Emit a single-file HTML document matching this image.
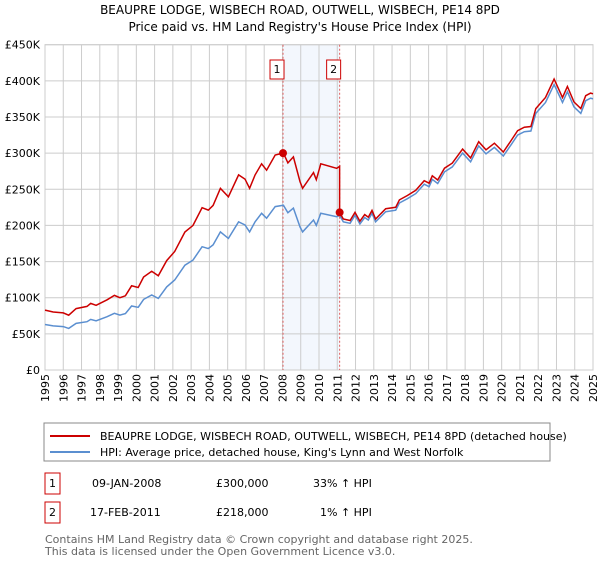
<!DOCTYPE html>
<html><head><meta charset="utf-8"><style>
body{margin:0;background:#fff;font-family:"DejaVu Sans","Liberation Sans",sans-serif;}
svg text{font-family:"DejaVu Sans","Liberation Sans",sans-serif;}
</style></head><body>
<svg id="c" width="600" height="560" viewBox="0 0 600 560">
<text x="300" y="14" text-anchor="middle" font-size="12">BEAUPRE LODGE, WISBECH ROAD, OUTWELL, WISBECH, PE14 8PD</text>
<text x="300" y="31" text-anchor="middle" font-size="12">Price paid vs. HM Land Registry's House Price Index (HPI)</text>
<g id="plot"></g>
<rect x="44" y="423" width="506" height="38" fill="#fff" stroke="#888"/>
<line x1="50" y1="436" x2="90" y2="436" stroke="#cc0000" stroke-width="2"/>
<text x="100" y="440" font-size="11">BEAUPRE LODGE, WISBECH ROAD, OUTWELL, WISBECH, PE14 8PD (detached house)</text>
<line x1="50" y1="452" x2="90" y2="452" stroke="#5b8fd0" stroke-width="2"/>
<text x="100" y="456" font-size="11">HPI: Average price, detached house, King's Lynn and West Norfolk</text>
<g font-size="11">
<rect x="45" y="473" width="15" height="21" fill="#fff" stroke="#cc0000"/>
<text x="52.5" y="487" text-anchor="middle">1</text>
<text x="92" y="487">09-JAN-2008</text>
<text x="216" y="487">£300,000</text>
<text x="313" y="487">33% ↑ HPI</text>
</g>
<g font-size="11">
<rect x="45" y="502" width="15" height="21" fill="#fff" stroke="#cc0000"/>
<text x="52.5" y="516" text-anchor="middle">2</text>
<text x="90" y="516">17-FEB-2011</text>
<text x="216" y="516">£218,000</text>
<text x="320" y="516">1% ↑ HPI</text>
</g>
<text x="45" y="543" font-size="11" fill="#666">Contains HM Land Registry data © Crown copyright and database right 2025.</text>
<text x="45" y="555" font-size="11" fill="#666">This data is licensed under the Open Government Licence v3.0.</text>
</svg>
<script>
const hpiYears=[1995,1995.45,1996,1996.3,1996.7,1997.3,1997.5,1997.8,1998.4,1998.8,1999.1,1999.4,1999.74,2000.1,2000.4,2000.84,2001.2,2001.66,2002.1,2002.66,2003.1,2003.6,2003.94,2004.2,2004.6,2005.04,2005.6,2005.95,2006.2,2006.5,2006.86,2007.13,2007.6,2008.05,2008.3,2008.6,2008.96,2009.1,2009.7,2009.85,2010.1,2010.97,2011.13,2011.33,2011.7,2011.97,2012.24,2012.5,2012.7,2012.9,2013.1,2013.65,2014.2,2014.4,2014.84,2015.3,2015.76,2016.03,2016.2,2016.5,2016.87,2017.3,2017.86,2018.3,2018.74,2019.14,2019.6,2020.09,2020.5,2020.87,2021.24,2021.6,2021.87,2022.4,2022.87,2023.33,2023.6,2023.96,2024.33,2024.6,2024.87,2025];
const hpiValues=[63,61,60,57.6,64.5,66.8,70,68,73.8,78.4,76,78,88.5,86.7,97.7,103.7,99,115,124.5,145,152,170.6,168,173,191,182,205,200.6,191,205,216.7,210,226,228,217.6,224,198,191,207.5,200,216.7,212,214,205,203,214,202,211,207.5,216.7,205,219,221,231,237,244,257,253.6,263.7,258,274,281,300,288,310,299,308,296,311,325,329.7,330.6,355,370,395,370,385,364,355,372.5,376,375];
const saleYears=[2008.03,2011.13];
const salePrices=[300,218];
const yTicks=[0,50,100,150,200,250,300,350,400,450];
const yTickLabels=["£0","£50K","£100K","£150K","£200K","£250K","£300K","£350K","£400K","£450K"];
const xTicks=[1995,1996,1997,1998,1999,2000,2001,2002,2003,2004,2005,2006,2007,2008,2009,2010,2011,2012,2013,2014,2015,2016,2017,2018,2019,2020,2021,2022,2023,2024,2025];

const L=45,R=593,T=44.7,B=370,x0=1995,x1=2025,yMax=450;
const X=v=>L+(v-x0)/(x1-x0)*(R-L);
const Y=v=>B-v/yMax*(B-T);
const NS="http://www.w3.org/2000/svg";
const g=document.getElementById('plot');
function mk(tag,attrs){const e=document.createElementNS(NS,tag);for(const k in attrs)e.setAttribute(k,attrs[k]);g.appendChild(e);return e;}
function hpiAt(t){for(let i=0;i<hpiYears.length-1;i++){if(t>=hpiYears[i]&&t<=hpiYears[i+1]){const f=(t-hpiYears[i])/(hpiYears[i+1]-hpiYears[i]);return hpiValues[i]+f*(hpiValues[i+1]-hpiValues[i]);}}return hpiValues[hpiValues.length-1];}

let sh=mk('rect',{x:X(saleYears[0]),y:T,width:X(saleYears[1])-X(saleYears[0]),height:B-T,fill:'#eef3fc',opacity:0.7});


yTicks.forEach((v,i)=>{
 let l=mk('line',{x1:L,x2:R,y1:Y(v),y2:Y(v),stroke:'#cccccc','stroke-width':1});
 
 
 let t=mk('text',{x:40,y:Y(v)+4,'text-anchor':'end','font-size':11});
 t.textContent=yTickLabels[i];
 
 
});
xTicks.forEach(v=>{
 let l=mk('line',{x1:X(v),x2:X(v),y1:T,y2:B,stroke:'#cccccc','stroke-width':1});
 
 
 const tx=X(v)+4,ty=374;
 let t=mk('text',{x:tx,y:ty,'text-anchor':'end','font-size':11,transform:'rotate(-90 '+tx+' '+ty+')'});
 t.textContent=String(v);
 
 
});
let fr=mk('rect',{x:L,y:T,width:R-L,height:B-T,fill:'none',stroke:'#cccccc'});


saleYears.forEach((s,i)=>{
 let l=mk('line',{x1:X(s),x2:X(s),y1:T,y2:B,stroke:'#e06060','stroke-dasharray':'2,2','stroke-width':1});
 
 
 let b=mk('rect',{x:X(s)-13,y:60,width:14,height:19,fill:'#fff',stroke:'#cc0000'});
 
 
 let t=mk('text',{x:X(s)-6,y:73,'text-anchor':'middle','font-size':11});
 t.textContent=String(i+1);
 
 
});
let bp=hpiYears.map((t,i)=>(i?'L':'M')+X(t).toFixed(1)+','+Y(hpiValues[i]).toFixed(1)).join('');
let bl=mk('path',{d:bp,fill:'none',stroke:'#5b8fd0','stroke-width':1.5});


const r0=salePrices[0]/hpiAt(saleYears[0]),r1=salePrices[1]/hpiAt(saleYears[1]);
let rp='';
hpiYears.forEach((t,i)=>{
 if(i>0&&hpiYears[i-1]<saleYears[1]&&t>=saleYears[1]){rp+='L'+X(saleYears[1]).toFixed(1)+','+Y(hpiAt(saleYears[1])*r0).toFixed(1)+'L'+X(saleYears[1]).toFixed(1)+','+Y(salePrices[1]).toFixed(1);}
 const r=t<saleYears[1]?r0:r1;
 rp+=(rp?'L':'M')+X(t).toFixed(1)+','+Y(hpiValues[i]*r).toFixed(1);
});
let rl=mk('path',{d:rp,fill:'none',stroke:'#cc0000','stroke-width':1.5});


saleYears.forEach((s,i)=>{
 let c=mk('circle',{cx:X(s),cy:Y(salePrices[i]),r:4,fill:'#cc0000'});
 
 
});
</script>
</body></html>
